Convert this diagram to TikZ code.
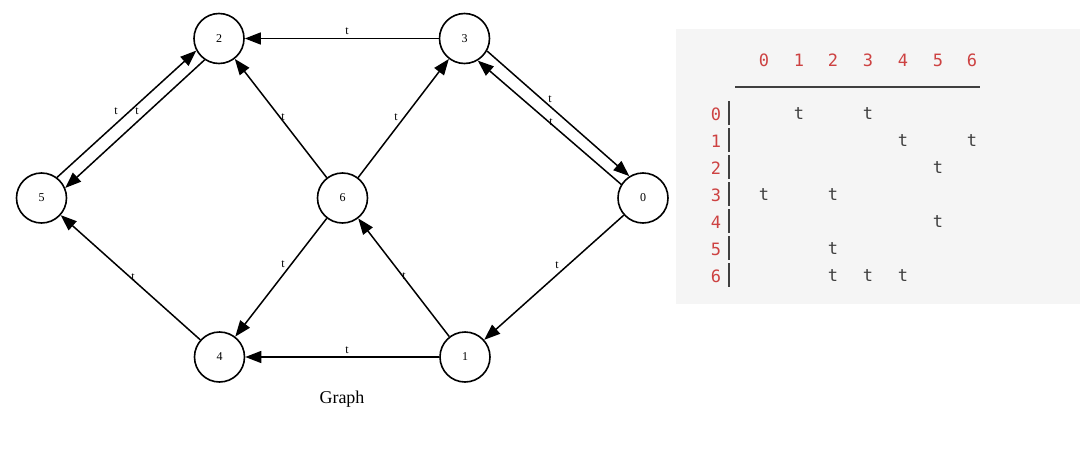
\documentclass[tikz,border=0pt]{standalone}
\usepackage{fontspec}
\setmainfont{Liberation Serif}
\newfontfamily\monofont{DejaVu Sans Mono}
\usetikzlibrary{arrows.meta}
\definecolor{panelgray}{RGB}{245,245,245}
\definecolor{idxred}{RGB}{205,66,66}
\definecolor{cellgray}{RGB}{64,64,64}
\tikzset{
  vtx/.style={circle, draw, line width=1.6pt, minimum size=50pt, inner sep=0pt, font=\fontsize{12}{12}\selectfont},
  edg/.style={line width=1.5pt, -{Triangle[length=16pt,width=12pt]}},
  elab/.style={inner sep=0pt, font=\fontsize{12}{12}\selectfont},
  idx/.style={inner sep=0pt, text=idxred, font=\monofont\fontsize{17}{17}\selectfont},
  cell/.style={inner sep=0pt, text=cellgray, font=\monofont\fontsize{17}{17}\selectfont},
  bar/.style={line width=1.5pt, draw=cellgray}
}
\begin{document}
\begin{tikzpicture}[x=1pt,y=-1pt]
\useasboundingbox (0,0) rectangle (1080,450);
\fill[white] (0,0) rectangle (1080,450);
% graph nodes
\node[vtx] (n2) at (219,38.5) {2};
\node[vtx] (n3) at (464.5,38.5) {3};
\node[vtx] (n5) at (41.5,198) {5};
\node[vtx] (n6) at (342.5,198) {6};
\node[vtx] (n0) at (643,198) {0};
\node[vtx] (n4) at (219.5,357) {4};
\node[vtx] (n1) at (465,357) {1};
% edges
\draw[edg] (n3) -- (n2);
\draw[edg] (n5.53) -- (n2.208);
\draw[edg] (n2.236) -- (n5.23);
\draw[edg] (n6) -- (n2);
\draw[edg] (n6) -- (n3);
\draw[edg] (n3.331) -- (n0.122);
\draw[edg] (n0.148) -- (n3.301);
\draw[edg] (n0) -- (n1);
\draw[edg] (n1) -- (n6);
\draw[edg] (n6) -- (n4);
\draw[edg] (n4) -- (n5);
\draw[edg] (n1) -- (n4);
% edge labels
\node[elab] (l32) at (347,31) {t};
\node[elab] (l52) at (116,111) {t};
\node[elab] (l25) at (137,111) {t};
\node[elab] (l62) at (283,117) {t};
\node[elab] (l63) at (396,117) {t};
\node[elab] (l30) at (550,99) {t};
\node[elab] (l03) at (551,122) {t};
\node[elab] (l01) at (557,265) {t};
\node[elab] (l16) at (404,276) {t};
\node[elab] (l64) at (283,264) {t};
\node[elab] (l45) at (133,277) {t};
\node[elab] (l14) at (347,350) {t};
\node[inner sep=0pt, font=\fontsize{18}{18}\selectfont] (title) at (342,399) {Graph};
% matrix panel
\fill[panelgray] (676,29) rectangle (1080,304);
\foreach \c [count=\i from 0] in {764,799,833,868,903,938,972} {
  \node[idx] (h\i) at (\c,60) {\i};
}
\draw[line width=1.6pt, draw=cellgray] (735,87) -- (980,87);
\foreach \r [count=\i from 0] in {114,141,168,195,222,249,276} {
  \node[idx] (r\i) at (716,\r) {\i};
  \draw[bar] (729,\r-13) -- (729,\r+11);
}
% cells
\node[cell] (c01) at (799,114) {t};
\node[cell] (c03) at (868,114) {t};
\node[cell] (c14) at (903,141) {t};
\node[cell] (c16) at (972,141) {t};
\node[cell] (c25) at (938,168) {t};
\node[cell] (c30) at (764,195) {t};
\node[cell] (c32) at (833,195) {t};
\node[cell] (c45) at (938,222) {t};
\node[cell] (c52) at (833,249) {t};
\node[cell] (c62) at (833,276) {t};
\node[cell] (c63) at (868,276) {t};
\node[cell] (c64) at (903,276) {t};
\end{tikzpicture}
\end{document}
